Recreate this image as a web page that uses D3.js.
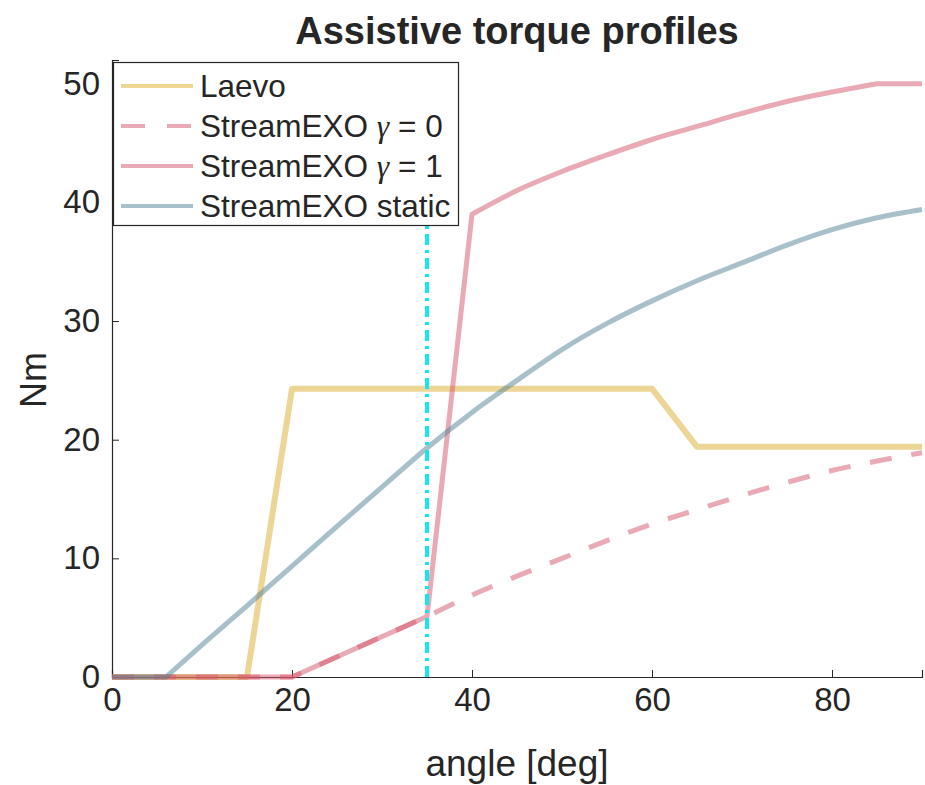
<!DOCTYPE html>
<html><head><meta charset="utf-8">
<script src="https://cdn.jsdelivr.net/npm/d3@7"></script>
<style>body{margin:0;background:#fff}svg{display:block}text{font-family:"Liberation Sans",Arial,Helvetica,sans-serif;fill:#262626}</style>
</head><body>
<script>
// ---- data ----
const laevoAngles = [0, 15, 20, 60, 65, 90];
const laevoTorque = [0, 0, 24.3, 24.3, 19.4, 19.4];
const streamAngles = [0, 20, 35, 40, 45, 50, 55, 60, 65, 70, 75, 80, 85, 90];
const gamma0Torque = [0, 0, 5.1, 6.9, 8.5, 10.0, 11.5, 12.9, 14.1, 15.3, 16.4, 17.4, 18.2, 18.9];
const gamma1Torque = [0, 0, 5.1, 39.0, 41.0, 42.6, 44.0, 45.3, 46.4, 47.5, 48.5, 49.3, 50.0, 50.0];
const staticAngles = [0, 6, 10, 15, 20, 25, 30, 35, 40, 45, 50, 55, 60, 65, 70, 75, 80, 85, 90];
const staticTorque = [0, 0, 2.7, 6.0, 9.35, 12.7, 16.0, 19.3, 22.3, 25.0, 27.6, 29.8, 31.7, 33.4, 34.9, 36.4, 37.7, 38.7, 39.4];
const markerAngle = 35;
const xTicks = [0, 20, 40, 60, 80];
const yTicks = [0, 10, 20, 30, 40, 50];
const seriesNames = ["Laevo", "StreamEXO γ = 0", "StreamEXO γ = 1", "StreamEXO static"];

const W = 925, H = 785;
const svg = d3.select("body").append("svg").attr("width", W).attr("height", H);
const x = d3.scaleLinear().domain([0, 90]).range([112, 922]);
const y = d3.scaleLinear().domain([0, 52]).range([677, 60]);

// smoothFrom: index from which the curve is smooth (monotone); smoothTo: last smooth index
const series = [
  {name: seriesNames[0], xs: laevoAngles, ys: laevoTorque, color: "#DBAB2D", w: 6, dash: null, smoothFrom: null},
  {name: seriesNames[1], xs: streamAngles, ys: gamma0Torque, color: "#D5556B", w: 5, dash: "22,20", smoothFrom: 2, smoothTo: 13},
  {name: seriesNames[2], xs: streamAngles, ys: gamma1Torque, color: "#D5556B", w: 5, dash: null, smoothFrom: 3, smoothTo: 12},
  {name: seriesNames[3], xs: staticAngles, ys: staticTorque, color: "#4F8195", w: 5, dash: null, smoothFrom: 1, smoothTo: 18}
];

const lin = d3.line().x(d => x(d[0])).y(d => y(d[1]));
const mono = d3.line().x(d => x(d[0])).y(d => y(d[1])).curve(d3.curveMonotoneX);

function pathFor(s) {
  const pts = s.xs.map((v, i) => [v, s.ys[i]]);
  if (s.smoothFrom == null) return lin(pts);
  const a = pts.slice(0, s.smoothFrom + 1);
  const b = pts.slice(s.smoothFrom, s.smoothTo + 1);
  const c = pts.slice(s.smoothTo);
  let d = lin(a);
  d += mono(b).replace(/^M[^A-Za-z]*/, "");
  if (c.length > 1) d += lin(c).replace(/^M[^A-Za-z]*/, "");
  return d;
}

// axes
const axisColor = "#262626";
const gx = svg.append("g").attr("transform", `translate(0,${y(0)})`)
  .call(d3.axisBottom(x).tickValues(xTicks).tickSize(-7).tickPadding(11));
const gy = svg.append("g").attr("transform", `translate(${x(0)},0)`)
  .call(d3.axisLeft(y).tickValues(yTicks).tickSize(-7).tickPadding(12));
[gx, gy].forEach(g => {
  g.select(".domain").attr("stroke", axisColor).attr("stroke-width", 1.2);
  g.selectAll(".tick line").attr("stroke", axisColor).attr("stroke-width", 1);
  g.selectAll(".tick text").style("font-size", "33px").attr("fill", axisColor)
   .style("font-family", '"Liberation Sans", Arial, sans-serif');
});
gx.selectAll(".tick text").attr("dy", "0.71em");

// series
series.forEach(s => {
  svg.append("path")
    .attr("d", pathFor(s))
    .attr("fill", "none")
    .attr("stroke", s.color)
    .attr("stroke-opacity", 0.5)
    .attr("stroke-width", s.w)
    .attr("stroke-dasharray", s.dash)
    .attr("stroke-linejoin", "round");
});

// vertical marker
svg.append("line")
  .attr("x1", x(markerAngle)).attr("x2", x(markerAngle))
  .attr("y1", y(0)).attr("y2", y(51))
  .attr("stroke", "#17E6EE").attr("stroke-width", 4)
  .attr("stroke-dasharray", "11,5,3,5");

// title and labels
svg.append("text").attr("x", 517).attr("y", 44).attr("text-anchor", "middle")
  .style("font-size", "38px").style("font-weight", "bold").attr("fill", "#000")
  .text("Assistive torque profiles");
svg.append("text").attr("x", 517).attr("y", 776).attr("text-anchor", "middle")
  .style("font-size", "37px").text("angle [deg]");
svg.append("text").attr("transform", "translate(46,380) rotate(-90)").attr("text-anchor", "middle")
  .style("font-size", "36px").text("Nm");

// legend
const lg = svg.append("g");
lg.append("rect").attr("x", 113.5).attr("y", 62.5).attr("width", 345).attr("height", 163)
  .attr("fill", "#fff").attr("stroke", "#262626").attr("stroke-width", 1.2);
series.forEach((s, i) => {
  const cy = 86 + i * 40;
  lg.append("line").attr("x1", 121).attr("x2", 193).attr("y1", cy).attr("y2", cy)
    .attr("stroke", s.color).attr("stroke-opacity", 0.5).attr("stroke-width", 4)
    .attr("stroke-dasharray", s.dash ? "24,22" : null);
  const t = lg.append("text").attr("x", 200).attr("y", cy + 11).style("font-size", "31.5px").attr("fill", "#000");
  const parts = s.name.split("γ");
  if (parts.length === 2) {
    t.append("tspan").text(parts[0]);
    t.append("tspan").style("font-family", '"Liberation Serif", "DejaVu Serif", serif')
      .style("font-style", "italic").text("γ");
    t.append("tspan").text(parts[1]);
  } else {
    t.text(s.name);
  }
});
</script>
</body></html>
